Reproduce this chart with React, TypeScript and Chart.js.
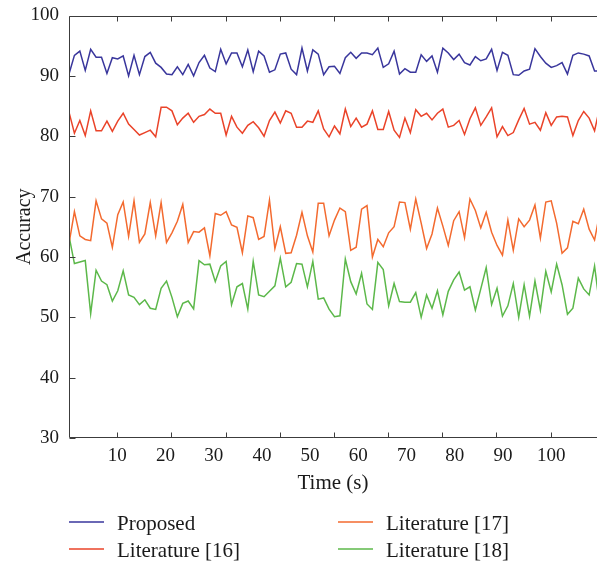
import React, { useEffect, useRef } from 'react';
import { Chart, registerables } from 'chart.js';

Chart.register(...registerables);

const seriesNames = ['Proposed', 'Literature [16]', 'Literature [17]', 'Literature [18]'];

const proposed = [
  90.3, 93.4, 94.1, 90.9, 94.4, 93.1, 93.1, 90.4, 93.0, 92.8, 93.3, 90.0, 93.4, 90.2, 93.2, 93.9, 92.1, 91.4, 90.3, 90.2, 91.5, 90.2, 91.9, 90.0, 92.2,
  93.4, 91.3, 90.7, 94.4, 92.0, 93.8, 93.8, 91.5, 94.3, 90.7, 94.1, 93.3, 90.6, 91.0, 93.6, 93.8, 91.1, 90.2, 94.6, 90.8, 94.3, 93.6, 90.2, 91.5,
  91.6, 90.4, 93.0, 93.9, 92.9, 93.8, 93.8, 93.5, 94.6, 91.4, 92.0, 94.1, 90.3, 91.2, 90.6, 90.6, 93.5, 92.4, 93.3, 90.6, 94.6, 93.8, 92.7, 93.6,
  92.2, 91.8, 93.2, 92.5, 92.8, 94.4, 90.9, 93.9, 93.4, 90.2, 90.1, 90.8, 91.1, 94.5, 93.2, 92.1, 91.4, 91.7, 92.2, 90.3, 93.4, 93.8, 93.6, 93.3, 90.8,
  90.8,
];

const literature16 = [
  84.0, 80.5, 82.6, 80.1, 84.2, 80.9, 80.9, 82.5, 80.8, 82.5, 83.8, 82.0, 81.1, 80.2, 80.6, 81.0, 79.9, 84.8, 84.8, 84.2, 81.9, 83.0, 83.8, 82.3, 83.3,
  83.6, 84.5, 83.8, 83.8, 80.2, 83.3, 81.5, 80.5, 81.8, 82.4, 81.4, 80.0, 82.6, 84.0, 82.2, 84.2, 83.8, 81.5, 81.5, 82.5, 82.3, 84.2, 81.2, 79.9,
  81.7, 80.4, 84.5, 81.6, 83.0, 81.5, 82.0, 84.2, 81.1, 81.1, 84.1, 81.0, 79.8, 83.0, 80.6, 84.4, 83.3, 83.8, 82.7, 83.8, 84.5, 81.5, 81.8, 82.6,
  80.3, 82.9, 84.7, 81.8, 83.2, 84.7, 79.9, 81.6, 80.1, 80.6, 82.7, 84.6, 82.0, 82.3, 81.0, 83.9, 81.8, 83.2, 83.3, 83.2, 80.1, 82.6, 84.1, 83.0, 80.9,
  85.0,
];

const literature17 = [
  62.2, 67.5, 63.5, 62.9, 62.7, 69.3, 66.3, 65.6, 61.6, 67.0, 69.1, 63.4, 69.3, 62.4, 63.8, 69.0, 63.5, 69.0, 62.4, 64.0, 65.9, 68.7, 62.4, 64.2, 64.1,
  64.8, 60.2, 67.2, 66.9, 67.5, 65.3, 64.9, 60.7, 66.8, 66.5, 62.9, 63.4, 69.4, 61.4, 65.0, 60.6, 60.7, 63.6, 67.4, 63.5, 60.8, 68.9, 68.9, 63.5,
  66.1, 68.1, 67.5, 61.1, 61.6, 67.9, 68.5, 60.0, 62.9, 61.7, 64.0, 65.0, 69.1, 69.0, 64.6, 69.6, 65.6, 61.4, 63.8, 68.1, 65.1, 61.9, 66.0, 67.5,
  63.2, 69.6, 67.7, 64.8, 67.4, 64.1, 61.9, 60.3, 66.1, 61.1, 66.3, 65.0, 66.1, 68.6, 63.1, 69.1, 69.3, 65.6, 60.6, 61.5, 65.9, 65.5, 67.9, 64.6, 62.8,
  67.5,
];

const literature18 = [
  63.5, 58.9, 59.15, 59.4, 50.6, 57.8, 56.0, 55.4, 52.7, 54.4, 57.7, 53.7, 53.3, 52.1, 52.9, 51.5, 51.3, 54.8, 56.0, 53.3, 50.1, 52.3, 52.7, 51.4, 59.4,
  58.7, 58.8, 55.9, 58.5, 59.25, 52.1, 55.05, 55.6, 51.35, 59.25, 53.7, 53.4, 54.3, 55.2, 59.8, 55.05, 55.8, 58.9, 58.8, 55.05, 59.25, 53.0, 53.2, 51.35,
  50.1, 50.25, 59.65, 55.9, 53.85, 57.3, 52.2, 51.3, 59.1, 57.9, 51.9, 55.6, 52.6, 52.5, 52.5, 54.1, 50.0, 53.7, 51.5, 54.4, 50.4, 54.3, 56.2, 57.5,
  54.5, 55.05, 51.2, 54.7, 58.25, 52.1, 54.8, 50.2, 51.9, 55.6, 50.0, 55.4, 50.2, 56.0, 51.2, 57.6, 54.2, 58.8, 55.4, 50.5, 51.5, 56.5, 54.7, 53.7, 58.5,
  51.5,
];

// Time tick labels (s) and y tick values
const xTickLabels = [10, 20, 30, 40, 50, 60, 70, 80, 90, 100];
const xTickMarks = [8.9, 18.9, 28.9, 38.9, 48.9, 58.9, 68.9, 78.9, 88.9]; // in sample units
const yTickValues = [30, 40, 50, 60, 70, 80, 90, 100];

const seriesColors = ['#39369c', '#ea4329', '#f36a2f', '#5cb84a'];
const FONT_FAMILY = '"Liberation Serif", "Times New Roman", serif';
const TEXT_COLOR = '#1a1a1a';
const AXIS_COLOR = '#3c3c3c';

export default function App() {
  const ref = useRef<HTMLCanvasElement>(null);

  useEffect(() => {
    document.body.style.margin = '0';
    const canvas = ref.current;
    if (!canvas) return;
    const allSeries = [proposed, literature16, literature17, literature18];
    const samples = proposed.map((_, i) => i);

    const axesPlugin = {
      id: 'boxAxes',
      afterDatasetsDraw(chart: any) {
        const { ctx, chartArea: a, scales } = chart;
        const xs = scales.x;
        const ys = scales.y;
        const L = Math.round(a.left) + 0.5;
        const T = Math.round(a.top) + 0.5;
        const B = Math.round(a.bottom) - 0.5;
        ctx.save();
        ctx.strokeStyle = AXIS_COLOR;
        ctx.lineWidth = 1;
        ctx.beginPath();
        ctx.moveTo(a.right, T);
        ctx.lineTo(L, T);
        ctx.lineTo(L, B);
        ctx.lineTo(a.right, B);
        for (const v of yTickValues) {
          const y = Math.round(ys.getPixelForValue(v)) + 0.5;
          ctx.moveTo(L, y);
          ctx.lineTo(L + 6, y);
        }
        for (const m of xTickMarks) {
          const x = Math.round(xs.getPixelForValue(m)) + 0.5;
          ctx.moveTo(x, B);
          ctx.lineTo(x, B - 5);
          ctx.moveTo(x, T);
          ctx.lineTo(x, T + 5);
        }
        ctx.stroke();
        ctx.restore();
      },
      afterDraw(chart: any) {
        const { ctx } = chart;
        const cols = [
          { lx: 69, tx: 117 },
          { lx: 338, tx: 386 },
        ];
        const rows = [524, 551];
        // column-major order: Proposed, Lit16 | Lit17, Lit18
        ctx.save();
        ctx.font = `21px ${FONT_FAMILY}`;
        ctx.textBaseline = 'middle';
        ctx.textAlign = 'left';
        chart.data.datasets.forEach((ds: any, i: number) => {
          const c = cols[Math.floor(i / 2)];
          const y = rows[i % 2];
          ctx.strokeStyle = ds.borderColor;
          ctx.lineWidth = 1.5;
          ctx.beginPath();
          ctx.moveTo(c.lx, y - 2);
          ctx.lineTo(c.lx + 35, y - 2);
          ctx.stroke();
          ctx.fillStyle = TEXT_COLOR;
          ctx.fillText(ds.label, c.tx, y);
        });
        ctx.restore();
      },
    };

    const chart = new Chart(canvas, {
      type: 'line',
      data: {
        labels: samples,
        datasets: allSeries.map((d, i) => ({
          label: seriesNames[i],
          data: d,
          borderColor: seriesColors[i],
          backgroundColor: seriesColors[i],
          borderWidth: 1.5,
          pointRadius: 0,
          tension: 0,
          fill: false,
          xAxisID: 'x',
          yAxisID: 'y',
        })),
      },
      options: {
        responsive: false,
        animation: false,
        devicePixelRatio: 1,
        layout: { padding: { top: 15.5, right: 0, left: 0, bottom: 0 } },
        plugins: { legend: { display: false }, tooltip: { enabled: false } },
        scales: {
          x: { type: 'linear', min: 0, max: 97.45, display: false },
          xLabel: {
            type: 'linear',
            position: 'bottom',
            min: 0,
            max: 109.5,
            grid: { display: false, drawTicks: false },
            border: { display: false },
            ticks: {
              autoSkip: false,
              maxRotation: 0,
              padding: 7,
              color: TEXT_COLOR,
              font: { family: FONT_FAMILY, size: 19 },
            },
            afterBuildTicks: (s: any) => {
              s.ticks = xTickLabels.map((v) => ({ value: v }));
            },
            afterFit: (s: any) => {
              s.height = 125;
              s.paddingLeft = 0;
              s.paddingRight = 0;
            },
            title: {
              display: true,
              text: 'Time (s)',
              color: TEXT_COLOR,
              font: { family: FONT_FAMILY, size: 21 },
              padding: { top: 0, bottom: 67 },
            },
          },
          y: {
            type: 'linear',
            min: 30,
            max: 100,
            grid: { display: false, drawTicks: false },
            border: { display: false },
            ticks: {
              stepSize: 10,
              padding: 10,
              color: TEXT_COLOR,
              font: { family: FONT_FAMILY, size: 19 },
            },
            afterFit: (s: any) => {
              s.width = 69;
              s.paddingTop = 0;
              s.paddingBottom = 0;
            },
            title: {
              display: true,
              text: 'Accuracy',
              color: TEXT_COLOR,
              font: { family: FONT_FAMILY, size: 20 },
              padding: { top: 13, bottom: 0 },
            },
          },
        },
      },
      plugins: [axesPlugin],
    } as any);

    return () => chart.destroy();
  }, []);

  return (
    <div style={{ width: 597, height: 563 }}>
      <canvas ref={ref} width={597} height={563} style={{ display: 'block' }} />
    </div>
  );
}
